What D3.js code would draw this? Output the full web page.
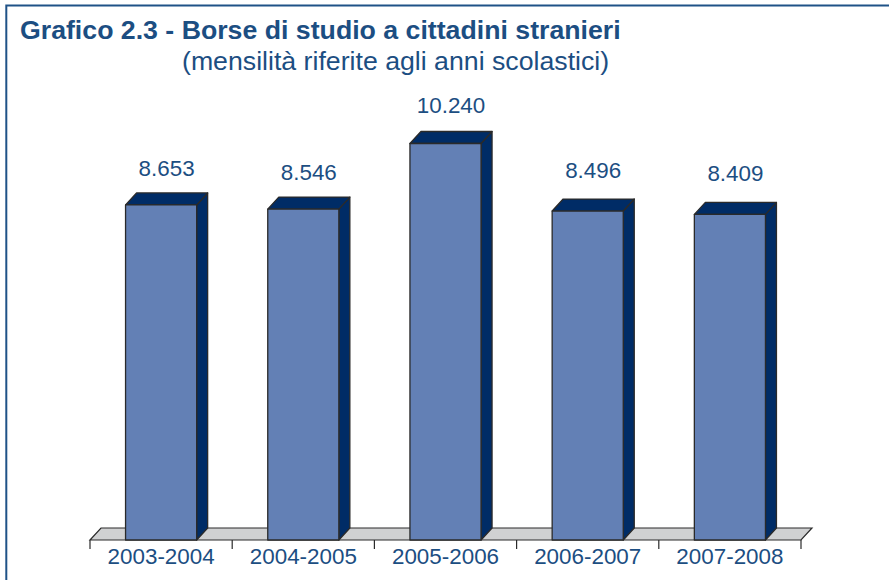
<!DOCTYPE html>
<html>
<head>
<meta charset="utf-8">
<script src="https://d3js.org/d3.v7.min.js"></script>
<style>
  body { margin: 0; background: #fff; }
  text { font-family: "Liberation Sans", Arial, sans-serif; fill: #1c4e82; }
</style>
</head>
<body>
<script>
const years = ['2003-2004', '2004-2005', '2005-2006', '2006-2007', '2007-2008'];
const values = [8653, 8546, 10240, 8496, 8409];

const width = 889, height = 580;
const textColor = '#1c4e82';
const stroke = '#2a2a2a';

// floor is a skewed box, bars get the same offset for the 3d look
const depthX = 11, depthY = 12;
const left = 90, right = 801, baseY = 540;

// gap between bar top and label baseline, the labels were placed by hand in the original
const labelGap = [29, 29, 31, 33, 33];

const svg = d3.select('body').append('svg')
  .attr('width', width)
  .attr('height', height)
  .style('display', 'block');

// frame: only top and left sides are inside the picture
svg.append('path')
  .attr('d', 'M6.3,580V5.5H889')
  .attr('fill', 'none')
  .attr('stroke', '#1f5287')
  .attr('stroke-width', 2);

svg.append('text')
  .attr('x', 20).attr('y', 39)
  .attr('font-size', 26.7)
  .attr('font-weight', 'bold')
  .text('Grafico 2.3 - Borse di studio a cittadini stranieri');

svg.append('text')
  .attr('x', 182).attr('y', 70)
  .attr('font-size', 26.7)
  .text('(mensilità riferite agli anni scolastici)');

const xScale = d3.scaleBand()
  .domain(years)
  .range([left, right])
  .paddingInner(0.5)
  .paddingOuter(0.25);

const yScale = d3.scaleLinear()
  .domain([0, 10240])
  .range([baseY, 143.5]);

// floor
svg.append('path')
  .attr('d', d3.line()([
    [left, baseY], [left + depthX, baseY - depthY],
    [right + depthX, baseY - depthY], [right, baseY]
  ]) + 'Z')
  .attr('fill', '#d0d1d2')
  .attr('stroke', stroke)
  .attr('stroke-width', 1.2);

// axis labels, tick marks go between the categories so they are added after
const xAxis = d3.axisBottom(xScale).tickSize(0).tickPadding(8);
const xAxisGroup = svg.append('g')
  .attr('class', 'axis x-axis')
  .attr('transform', `translate(0, ${baseY})`)
  .call(xAxis);
xAxisGroup.select('.domain').remove();
xAxisGroup.selectAll('text')
  .attr('font-size', 22.4)
  .attr('font-family', '"Liberation Sans", Arial, sans-serif')
  .attr('fill', textColor);

const edges = d3.range(years.length + 1).map(i => left + i * xScale.step());
svg.selectAll('.edge-tick')
  .data(edges)
  .enter()
  .append('line')
  .attr('class', 'edge-tick')
  .attr('x1', d => d).attr('x2', d => d)
  .attr('y1', baseY).attr('y2', baseY + 9)
  .attr('stroke', stroke)
  .attr('stroke-width', 1.2);

const bars = svg.selectAll('.bar')
  .data(values)
  .enter()
  .append('g')
  .attr('class', 'bar')
  .attr('stroke', stroke)
  .attr('stroke-width', 1.3)
  .attr('stroke-linejoin', 'round');

// side
bars.append('path')
  .attr('fill', '#002c66')
  .attr('d', (d, i) => {
    const x1 = xScale(years[i]) + xScale.bandwidth();
    const y = yScale(d);
    return d3.line()([
      [x1, y], [x1 + depthX, y - depthY],
      [x1 + depthX, baseY - depthY], [x1, baseY]
    ]) + 'Z';
  });

// top
bars.append('path')
  .attr('fill', '#002c66')
  .attr('d', (d, i) => {
    const x0 = xScale(years[i]);
    const x1 = x0 + xScale.bandwidth();
    const y = yScale(d);
    return d3.line()([
      [x0, y], [x0 + depthX, y - depthY],
      [x1 + depthX, y - depthY], [x1, y]
    ]) + 'Z';
  });

// front
bars.append('rect')
  .attr('fill', '#6380b5')
  .attr('x', (d, i) => xScale(years[i]))
  .attr('y', d => yScale(d))
  .attr('width', xScale.bandwidth())
  .attr('height', d => baseY - yScale(d));

svg.selectAll('.value')
  .data(values)
  .enter()
  .append('text')
  .attr('class', 'value')
  .attr('text-anchor', 'middle')
  .attr('font-size', 22.4)
  .attr('x', (d, i) => xScale(years[i]) + xScale.bandwidth() / 2 + 5.5)
  .attr('y', (d, i) => yScale(d) - labelGap[i])
  .text(d => d3.format(',')(d).replace(',', '.'));
</script>
</body>
</html>
